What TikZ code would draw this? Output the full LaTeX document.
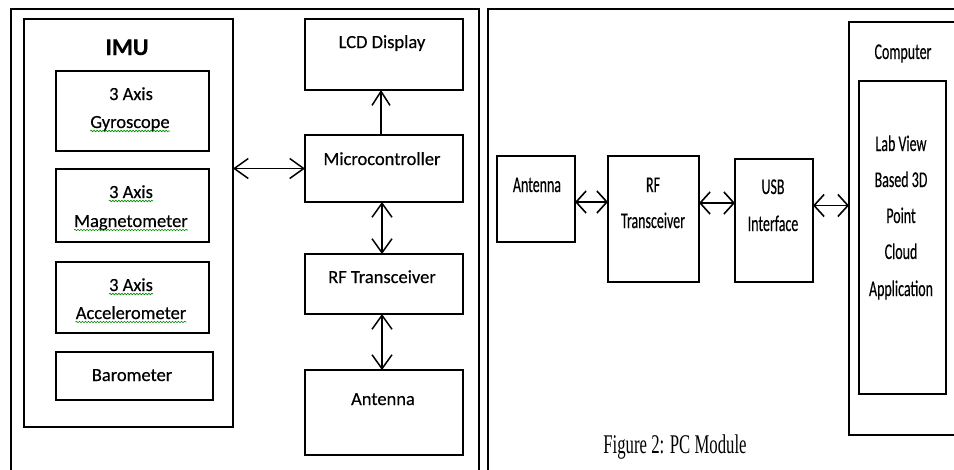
\documentclass[tikz,border=0pt]{standalone}
\usepackage{fontspec}
\usepackage{graphicx}
\usetikzlibrary{arrows.meta,calc,decorations.pathmorphing}
\setmainfont[FakeBold=0.4]{Carlito}
\newfontfamily\capfont{Liberation Serif}
\newcommand{\sqz}[1]{\scalebox{0.62}[1]{#1}}
\begin{document}
\begin{tikzpicture}[x=1pt,y=-1pt,
  box/.style={draw, line width=1.4pt, inner sep=0pt, outer sep=0pt, rectangle},
  frame/.style={draw, line width=2.4pt},
  lt/.style={inner sep=0pt, anchor=base, font=\fontsize{18.5}{20}\selectfont\addfontfeature{FakeBold=0.4}},
  rt/.style={inner sep=0pt, anchor=base, font=\fontsize{22.5}{24}\selectfont\addfontfeature{FakeBold=0.4}},
  la/.style={line width=1.5pt, {Straight Barb[length=14pt,width=20pt]}-{Straight Barb[length=14pt,width=20pt]}},
  lone/.style={line width=1.5pt, -{Straight Barb[length=14pt,width=18pt]}},
  ra/.style={line width=1.6pt, {Straight Barb[length=10pt,width=22pt]}-{Straight Barb[length=10pt,width=22pt]}},
  squig/.style={draw=green!55!black, line width=0.6pt, decorate, decoration={snake, amplitude=0.8pt, segment length=3pt}}
]
\useasboundingbox (0,0) rectangle (954,469);
\clip (0,0) rectangle (954,469);
\fill[white] (0,0) rectangle (954,469);

% panel frames
\draw[frame] (11,9) rectangle (479,490);
\draw[frame] (488,9) rectangle (975,490);

% ---------- left panel ----------
\node[box, minimum width=209pt, minimum height=408pt] (imu) at (128.5,223) {};
\node[lt, font=\fontsize{24}{26}\selectfont\bfseries] (imut) at (127,55) {IMU};
\node[box, minimum width=153pt, minimum height=80pt] (gyro) at (132.5,111) {};
\node[lt] (gyro1) at (131,100) {3 Axis};
\node[lt] (gyro2) at (130,128) {Gyroscope};
\node[box, minimum width=153pt, minimum height=73pt] (mag) at (132.5,205.5) {};
\node[lt] (mag1) at (131,198) {3 Axis};
\node[lt] (mag2) at (131,227) {Magnetometer};
\node[box, minimum width=153pt, minimum height=71pt] (acc) at (132.5,297.5) {};
\node[lt] (acc1) at (131,291) {3 Axis};
\node[lt] (acc2) at (131,319) {Accelerometer};
\node[box, minimum width=157pt, minimum height=48pt] (baro) at (134.5,376) {};
\node[lt] (barot) at (132,381) {Barometer};

\path[squig] ($(gyro2.base west)+(0,3)$) -- ($(gyro2.base east)+(0,3)$);
\path[squig] ($(mag1.base west)+(0,3)$) -- ($(mag1.base east)+(0,3)$);
\path[squig] ($(mag2.base west)+(0,3)$) -- ($(mag2.base east)+(0,3)$);
\path[squig] ($(acc1.base west)+(0,3)$) -- ($(acc1.base east)+(0,3)$);
\path[squig] ($(acc2.base west)+(0,3)$) -- ($(acc2.base east)+(0,3)$);

\node[box, minimum width=158pt, minimum height=71pt] (lcd) at (384,54.5) {};
\node[lt] (lcdt) at (382,48) {LCD Display};
\node[box, minimum width=158pt, minimum height=67pt] (mcu) at (384,168.5) {};
\node[lt] (mcut) at (382,165) {Microcontroller};
\node[box, minimum width=158pt, minimum height=60pt] (rfl) at (384,284) {};
\node[lt] (rflt) at (382,283) {RF Transceiver};
\node[box, minimum width=158pt, minimum height=85pt] (antl) at (384,412.5) {};
\node[lt] (antlt) at (383,405) {Antenna};

\draw[la] (mcu.west -| imu.east) -- (mcu.west);
\draw[lone] ($(mcu.north)+(-3,0)$) -- ($(lcd.south)+(-3,0)$);
\draw[la] ($(mcu.south)+(-2,0)$) -- ($(rfl.north)+(-2,0)$);
\draw[la] ($(rfl.south)+(-2,0)$) -- ($(antl.north)+(-2,0)$);

% ---------- right panel ----------
\node[box, minimum width=78pt, minimum height=86pt] (antr) at (536,199) {};
\node[rt] (antrt) at (537,192) {\sqz{Antenna}};
\node[box, minimum width=91pt, minimum height=126pt] (rfr) at (653.5,219) {};
\node[rt] (rfr1) at (653,192) {\sqz{RF}};
\node[rt] (rfr2) at (653,228) {\sqz{Transceiver}};
\node[box, minimum width=78pt, minimum height=123pt] (usb) at (774,220.5) {};
\node[rt] (usb1) at (773,194) {\sqz{USB}};
\node[rt] (usb2) at (773,231) {\sqz{Interface}};
\node[box, minimum width=120pt, minimum height=413pt] (comp) at (909,228.5) {};
\node[rt] (compt) at (903,59) {\sqz{Computer}};
\node[box, minimum width=87pt, minimum height=313pt] (app) at (902.5,237.5) {};
\node[rt] (app1) at (901,151) {\sqz{Lab View}};
\node[rt] (app2) at (901,187) {\sqz{Based 3D}};
\node[rt] (app3) at (901,223) {\sqz{Point}};
\node[rt] (app4) at (901,259) {\sqz{Cloud}};
\node[rt] (app5) at (901,296) {\sqz{Application}};

\draw[ra] ($(antr.east)+(0,3)$) -- ($(antr.east -| rfr.west)+(0,3)$);
\draw[ra] ($(rfr.east)+(0,-16)$) -- ($(rfr.east -| usb.west)+(0,-16)$);
\draw[ra] ($(usb.east)+(0,-15)$) -- ($(usb.east -| comp.west)+(0,-15)$);

\node[inner sep=0pt, anchor=base] (cap) at (675,453) {\capfont\fontsize{27}{30}\selectfont\sqz{Figure 2: PC Module}};
\end{tikzpicture}
\end{document}
